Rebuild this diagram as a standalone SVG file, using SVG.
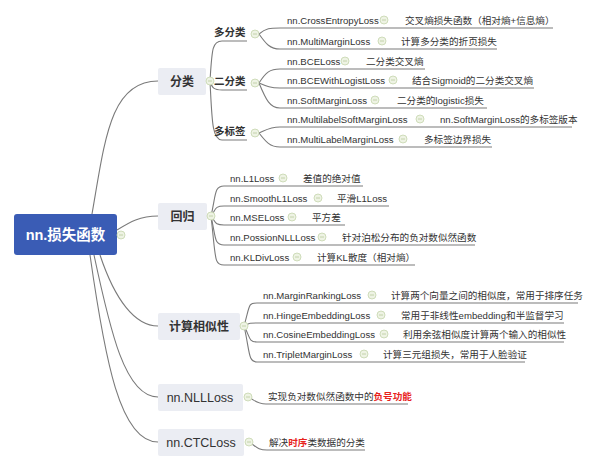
<svg xmlns="http://www.w3.org/2000/svg" xmlns:xlink="http://www.w3.org/1999/xlink" width="600" height="469" viewBox="0 0 600 469">
<style>
text{font-family:"Liberation Sans","Noto Sans CJK SC",sans-serif;fill:#333;dominant-baseline:central}
.leaf{font-size:9.6px}
.l2{font-size:10.5px;font-weight:bold}
.l1{font-size:12px;font-weight:bold}
.l1n{font-size:12.5px}
.box{fill:#ebedf3}
.c{fill:none;stroke:#7a7a7a;stroke-width:1.1}
.red{fill:#e8231c;font-weight:bold}
</style>
<defs>
<g id="m"><circle r="4" fill="#eef3e4" stroke="#c5d6ad" stroke-width="0.8"/><line x1="-2" x2="2" stroke="#b7c99c" stroke-width="0.8"/></g>
</defs>
<rect width="600" height="469" fill="#fff"/>
<g id="connectors" class="c">
<path d="M92 214 C105 140,110 81,158 81"/>
<path d="M117 230 C130 222,140 216,158 216"/>
<path d="M100 255 C115 300,135 326,158 326"/>
<path d="M94 255 C110 330,125 397,158 397"/>
<path d="M90 255 C105 360,120 442,158 442"/>
<path d="M210 81 C212 50,212 41,222 41 H247"/>
<path d="M210 81 C212 88,214 90,222 90 H247"/>
<path d="M210 81 C212 120,212 140,222 140 H247"/>
<path d="M259 34 C266 28,270 28,280 28 H553"/>
<path d="M259 34 C266 44,270 49,280 49 H497"/>
<path d="M259 83 C266 72,270 69,280 69 H425"/>
<path d="M259 83 C266 86,270 88,280 88 H534"/>
<path d="M259 83 C266 100,270 108,280 108 H487"/>
<path d="M259 133 C266 130,270 127,280 127 H572"/>
<path d="M259 133 C266 142,270 147,280 147 H492"/>
<path d="M211 216 C216 195,214 186,224 186 H363"/>
<path d="M211 216 C216 210,214 206,224 206 H389"/>
<path d="M211 216 C216 222,214 225,224 225 H345"/>
<path d="M211 216 C216 238,214 245,224 245 H475"/>
<path d="M211 216 C216 260,214 265,224 265 H415"/>
<path d="M244 326 C250 305,248 303,257 303 H578"/>
<path d="M244 326 C250 323,248 323,257 323 H564"/>
<path d="M244 326 C250 336,248 342,257 342 H564"/>
<path d="M244 326 C250 352,248 362,257 362 H525"/>
<path d="M248 397 C255 400,256 404,266 404 H408"/>
<path d="M249 442 C256 446,257 450,267 450 H365"/>
</g>
<g id="root"><rect x="14" y="214" width="103" height="41" rx="3" fill="#3a5cb5"/><text x="65.5" y="234.5" text-anchor="middle" style="fill:#fff;font-size:14.5px;font-weight:bold">nn.损失函数</text><use href="#m" x="121" y="235"/></g>
<g id="n-fenlei"><rect class="box" x="158" y="68" width="48" height="27" rx="2"/><text class="l1" x="182" y="81.5" text-anchor="middle">分类</text><use href="#m" x="210" y="81"/></g>
<g id="n-huigui"><rect class="box" x="158" y="203" width="49" height="27" rx="2"/><text class="l1" x="182.5" y="216.5" text-anchor="middle">回归</text><use href="#m" x="211" y="216"/></g>
<g id="n-sim"><rect class="box" x="158" y="313" width="82" height="27" rx="2"/><text class="l1" x="199" y="326.5" text-anchor="middle">计算相似性</text><use href="#m" x="244" y="326"/></g>
<g id="n-nll"><rect class="box" x="158" y="384" width="85" height="27" rx="2"/><text class="l1n" x="200" y="397.5" text-anchor="middle">nn.NLLLoss</text><use href="#m" x="248" y="397"/></g>
<g id="n-ctc"><rect class="box" x="158" y="429" width="86" height="27" rx="2"/><text class="l1n" x="201" y="442.5" text-anchor="middle">nn.CTCLoss</text><use href="#m" x="249" y="442"/></g>
<g id="n-multi"><text class="l2" x="214" y="32">多分类</text><use href="#m" x="255" y="34"/></g>
<g id="n-bin"><text class="l2" x="214" y="81">二分类</text><use href="#m" x="255" y="83"/></g>
<g id="n-label"><text class="l2" x="214" y="131">多标签</text><use href="#m" x="255" y="133"/></g>
<g id="leaves">
<g><text class="leaf" x="287" y="20">nn.CrossEntropyLoss</text><use href="#m" x="384" y="20"/><text class="leaf" x="405" y="20">交叉熵损失函数（相对熵+信息熵）</text></g>
<g><text class="leaf" x="287" y="41">nn.MultiMarginLoss</text><use href="#m" x="382" y="41"/><text class="leaf" x="401" y="41">计算多分类的折页损失</text></g>
<g><text class="leaf" x="287" y="61">nn.BCELoss</text><use href="#m" x="345" y="61"/><text class="leaf" x="366" y="61">二分类交叉熵</text></g>
<g><text class="leaf" x="287" y="80">nn.BCEWithLogistLoss</text><use href="#m" x="393" y="80"/><text class="leaf" x="412" y="80">结合Sigmoid的二分类交叉熵</text></g>
<g><text class="leaf" x="287" y="100">nn.SoftMarginLoss</text><use href="#m" x="375" y="100"/><text class="leaf" x="397" y="100">二分类的logistic损失</text></g>
<g><text class="leaf" x="287" y="119">nn.MultilabelSoftMarginLoss</text><use href="#m" x="420" y="119"/><text class="leaf" x="440" y="119">nn.SoftMarginLoss的多标签版本</text></g>
<g><text class="leaf" x="287" y="139">nn.MultiLabelMarginLoss</text><use href="#m" x="403" y="139"/><text class="leaf" x="424" y="139">多标签边界损失</text></g>
<g><text class="leaf" x="230" y="178">nn.L1Loss</text><use href="#m" x="283" y="178"/><text class="leaf" x="303" y="178">差值的绝对值</text></g>
<g><text class="leaf" x="230" y="198">nn.SmoothL1Loss</text><use href="#m" x="318" y="198"/><text class="leaf" x="337" y="198">平滑L1Loss</text></g>
<g><text class="leaf" x="230" y="217">nn.MSELoss</text><use href="#m" x="292" y="217"/><text class="leaf" x="312" y="217">平方差</text></g>
<g><text class="leaf" x="230" y="237">nn.PossionNLLLoss</text><use href="#m" x="322" y="237"/><text class="leaf" x="342" y="237">针对泊松分布的负对数似然函数</text></g>
<g><text class="leaf" x="230" y="257">nn.KLDivLoss</text><use href="#m" x="297" y="257"/><text class="leaf" x="317" y="257">计算KL散度（相对熵）</text></g>
<g><text class="leaf" x="263" y="295">nn.MarginRankingLoss</text><use href="#m" x="372" y="295"/><text class="leaf" x="391" y="295">计算两个向量之间的相似度，常用于排序任务</text></g>
<g><text class="leaf" x="263" y="315">nn.HingeEmbeddingLoss</text><use href="#m" x="381" y="315"/><text class="leaf" x="401" y="315">常用于非线性embedding和半监督学习</text></g>
<g><text class="leaf" x="263" y="334">nn.CosineEmbeddingLoss</text><use href="#m" x="384" y="334"/><text class="leaf" x="403" y="334">利用余弦相似度计算两个输入的相似性</text></g>
<g><text class="leaf" x="263" y="354">nn.TripletMarginLoss</text><use href="#m" x="364" y="354"/><text class="leaf" x="383" y="354">计算三元组损失，常用于人脸验证</text></g>
<g><text class="leaf" x="268" y="396">实现负对数似然函数中的<tspan class="red">负号功能</tspan></text></g>
<g><text class="leaf" x="269" y="442">解决<tspan class="red">时序</tspan>类数据的分类</text></g>
</g>
</svg>
